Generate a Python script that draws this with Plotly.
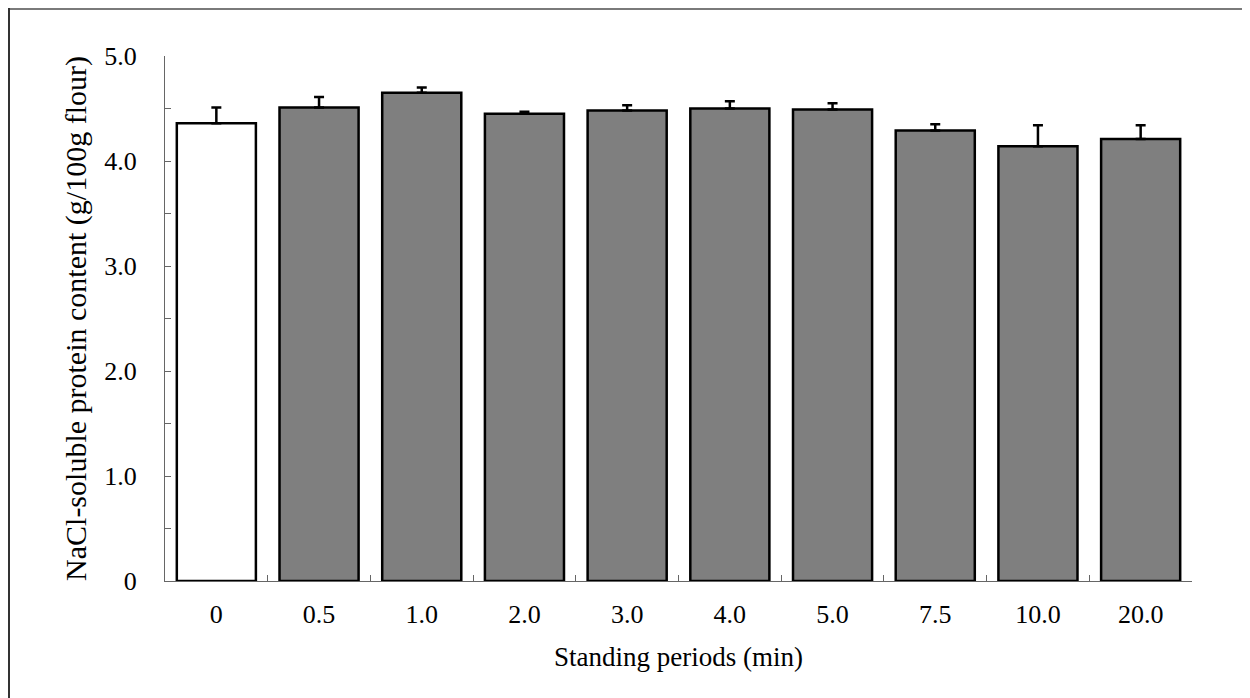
import plotly.graph_objects as go

categories = ["0", "0.5", "1.0", "2.0", "3.0", "4.0", "5.0", "7.5", "10.0", "20.0"]
values = [4.36, 4.51, 4.65, 4.45, 4.48, 4.50, 4.49, 4.29, 4.14, 4.21]
errors = [0.15, 0.10, 0.05, 0.02, 0.05, 0.07, 0.06, 0.06, 0.20, 0.13]
colors = ["#ffffff"] + ["#7f7f7f"] * 9
y_ticks = [0, 1, 2, 3, 4, 5]
y_tick_labels = ["0", "1.0", "2.0", "3.0", "4.0", "5.0"]

W, H = 1250, 698
L, R, T, B = 157, 66, 48, 125
pw, ph = W - L - R, H - T - B

def px(x):
    return (x - L) / pw

def py(y):
    return (H - B - y) / ph

font = "Liberation Serif, Times New Roman, serif"

fig = go.Figure(go.Bar(
    x=categories, y=values,
    marker=dict(color=colors, line=dict(color="#000000", width=2.5)),
    width=0.77,
    error_y=dict(type="data", symmetric=False, array=errors,
                 arrayminus=[0] * len(errors), color="#000000",
                 thickness=2.5, width=5),
))

fig.update_layout(
    width=W, height=H,
    margin=dict(l=L, r=R, t=T, b=B),
    paper_bgcolor="white", plot_bgcolor="white",
    showlegend=False,
    font=dict(family=font, size=26, color="#000000"),
    xaxis=dict(
        title=dict(text="Standing periods (min)", font=dict(size=27), standoff=18),
        showline=True, linecolor="#666666", linewidth=1,
        ticks="inside", tickson="boundaries", ticklen=6, tickcolor="#666666",
        tickfont=dict(size=26), ticklabelstandoff=10,
        showgrid=False, zeroline=False,
    ),
    yaxis=dict(
        title=dict(text="NaCl-soluble protein content (g/100g flour)", font=dict(size=30), standoff=8),
        range=[0, 5], showline=True, linecolor="#666666", linewidth=1,
        tickvals=y_ticks, ticktext=y_tick_labels,
        ticks="inside", ticklen=6, tickcolor="#666666",
        minor=dict(dtick=0.5, ticks="inside", ticklen=6, tickcolor="#666666"),
        tickfont=dict(size=26), ticklabelstandoff=22,
        showgrid=False, zeroline=False,
    ),
    shapes=[
        dict(type="line", xref="paper", yref="paper",
             x0=px(0), x1=px(W), y0=py(1), y1=py(1),
             line=dict(color="#7a7a7a", width=2)),
        dict(type="line", xref="paper", yref="paper",
             x0=px(1), x1=px(1), y0=py(0), y1=py(H),
             line=dict(color="#333333", width=2)),
    ],
)

fig.write_html("out.html")
